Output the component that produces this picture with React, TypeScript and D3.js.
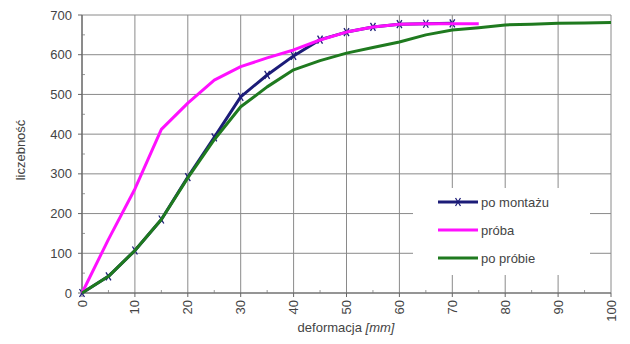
import React from "react";
import * as d3 from "d3";

const xValues = [0, 5, 10, 15, 20, 25, 30, 35, 40, 45, 50, 55, 60, 65, 70, 75, 80, 85, 90, 95, 100];
const poMontazu = [0, 42, 107, 185, 292, 392, 494, 549, 597, 638, 657, 670, 677, 678, 679];
const proba = [0, 135, 262, 412, 478, 536, 570, 592, 612, 637, 657, 670, 677, 678, 678, 678];
const poProbie = [0, 42, 107, 185, 290, 386, 469, 519, 562, 585, 604, 618, 632, 650, 662, 668, 675, 677, 679, 680, 681];
const xTicks = [0, 10, 20, 30, 40, 50, 60, 70, 80, 90, 100];
const yTicks = [0, 100, 200, 300, 400, 500, 600, 700];

const series = [
  { name: "po montażu", values: poMontazu, color: "#1c1c78", markers: true },
  { name: "próba", values: proba, color: "#ff10ff", markers: false },
  { name: "po próbie", values: poProbie, color: "#1f7a1f", markers: false },
];

export default function App() {
  const W = 630, H = 344;
  const x = d3.scaleLinear().domain([0, 100]).range([82, 611]);
  const y = d3.scaleLinear().domain([0, 700]).range([293, 15]);
  const line = d3.line<[number, number]>().x(d => x(d[0])).y(d => y(d[1]));
  const font = "Liberation Sans, Arial, sans-serif";
  const minorX = d3.range(5, 100, 10);
  const minorY = d3.range(50, 700, 100);

  const mk = (cx: number, cy: number, c: string, k: string) => (
    <g key={k} stroke={c} strokeWidth={1.3}>
      <line x1={cx - 2.5} y1={cy - 4} x2={cx + 2.5} y2={cy + 4} />
      <line x1={cx - 2.5} y1={cy + 4} x2={cx + 2.5} y2={cy - 4} />
    </g>
  );

  return (
    <svg width={W} height={H} style={{ position: "absolute", left: 0, top: 0, background: "#fff" }} fontFamily={font}>
      <rect width={W} height={H} fill="#fff" />
      {xTicks.map(t => (
        <line key={"gx" + t} x1={x(t)} x2={x(t)} y1={y(700)} y2={y(0)} stroke="#8a8a8a" strokeWidth={1} />
      ))}
      {yTicks.map(t => (
        <line key={"gy" + t} x1={x(0)} x2={x(100)} y1={y(t)} y2={y(t)} stroke="#8a8a8a" strokeWidth={1} />
      ))}
      {minorX.map(t => (
        <line key={"mx" + t} x1={x(t)} x2={x(t)} y1={y(0)} y2={y(0) - 3} stroke="#999" />
      ))}
      {minorY.map(t => (
        <line key={"my" + t} x1={x(0)} x2={x(0) + 3} y1={y(t)} y2={y(t)} stroke="#999" />
      ))}
      <line x1={x(0)} x2={x(100)} y1={y(0)} y2={y(0)} stroke="#666" strokeWidth={1.2} />
      <line x1={x(0)} x2={x(0)} y1={y(0)} y2={y(700)} stroke="#666" strokeWidth={1.2} />
      {yTicks.map(t => (
        <g key={"yt" + t}>
          <line x1={x(0) - 4} x2={x(0)} y1={y(t)} y2={y(t)} stroke="#666" />
          <text x={72} y={y(t) + 4.5} textAnchor="end" fontSize={13} fill="#444">{t}</text>
        </g>
      ))}
      {xTicks.map(t => (
        <g key={"xt" + t}>
          <line x1={x(t)} x2={x(t)} y1={y(0)} y2={y(0) + 4} stroke="#666" />
          <text transform={`translate(${x(t) + 4.5},${300}) rotate(-90)`} textAnchor="end" fontSize={13} fill="#444">{t}</text>
        </g>
      ))}
      <rect x={413} y={188} width={177} height={87} fill="#fff" />
      {series.map((s) => {
        const pts = s.values.map((v, j) => [xValues[j], v] as [number, number]);
        return (
          <g key={s.name}>
            <path d={line(pts) || ""} fill="none" stroke={s.color} strokeWidth={3} strokeLinejoin="round" />
            {s.markers && s.values.map((v, j) => mk(x(xValues[j]), y(v), s.color, "m" + j))}
          </g>
        );
      })}
      {series.map((s, i) => {
        const ly = 202 + i * 28;
        return (
          <g key={"lg" + i}>
            <line x1={438} x2={478} y1={ly} y2={ly} stroke={s.color} strokeWidth={3} />
            {s.markers && mk(458, ly, s.color, "lm")}
            <text x={481} y={ly + 4.5} fontSize={13} fill="#444">{s.name}</text>
          </g>
        );
      })}
      <text transform={`translate(${25},${150}) rotate(-90)`} textAnchor="middle" fontSize={13} fill="#444">liczebność</text>
      <text x={346} y={332} textAnchor="middle" fontSize={13} fill="#444">
        deformacja <tspan fontStyle="italic">[mm]</tspan>
      </text>
    </svg>
  );
}
